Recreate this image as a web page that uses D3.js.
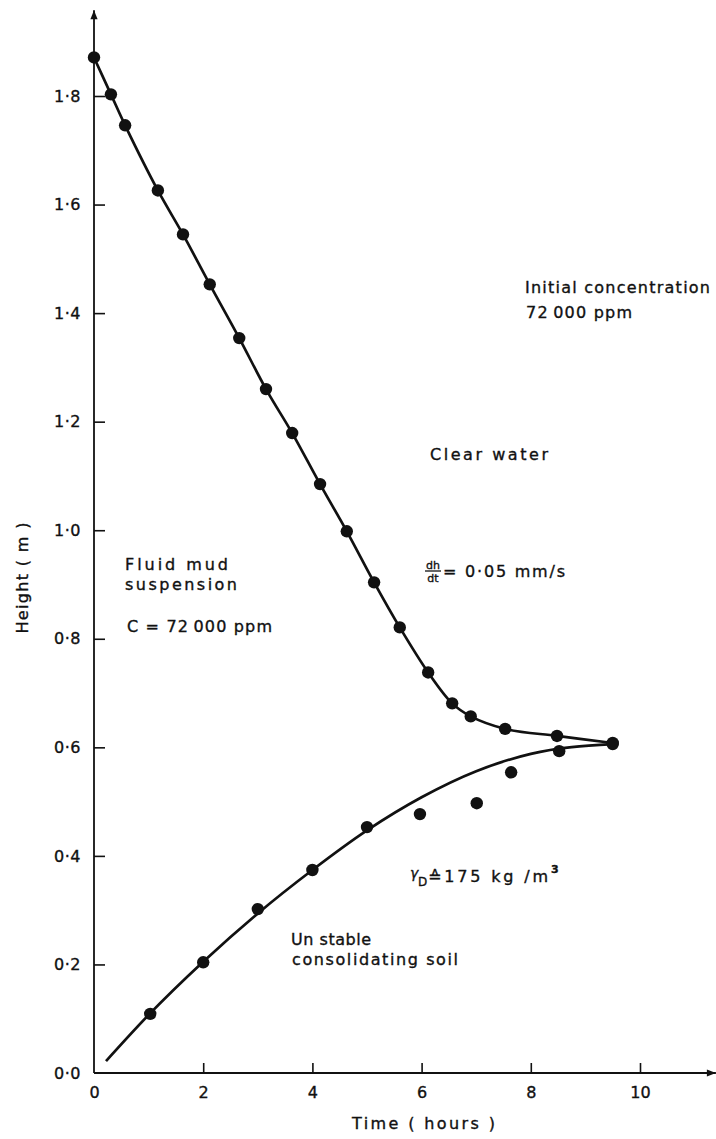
<!DOCTYPE html>
<html>
<head>
<meta charset="utf-8">
<script src="https://cdn.jsdelivr.net/npm/d3@7"></script>
<style>
  html, body { margin: 0; padding: 0; background: #fff; }
  svg { display: block; }
  text { font-family: "DejaVu Sans", sans-serif; fill: #111; stroke: #111; stroke-width: 0.35px; }
</style>
</head>
<body>
<svg id="chart" width="716" height="1139"></svg>
<script>
// Settling column: interface heights over time
// Upper interface (clear water / fluid mud) – measured points
const upperTime   = [0, 0.31, 0.57, 1.17, 1.63, 2.12, 2.66, 3.15, 3.63, 4.14, 4.63, 5.13, 5.60, 6.12, 6.56, 6.90, 7.53, 8.48, 9.50];
const upperHeight = [1.871, 1.803, 1.746, 1.626, 1.545, 1.453, 1.354, 1.260, 1.179, 1.085, 0.998, 0.904, 0.821, 0.738, 0.681, 0.657, 0.634, 0.621, 0.608];

// Lower interface (fluid mud / consolidating soil) – measured points
const lowerTime   = [1.03, 2.0, 3.0, 4.0, 5.0, 5.97, 7.01, 7.64, 8.52, 9.50];
const lowerHeight = [0.109, 0.204, 0.302, 0.374, 0.453, 0.477, 0.497, 0.554, 0.593, 0.606];

// Smoothed trend drawn through the lower interface
const lowerFitTime   = [0.22, 1.0, 2.0, 3.0, 4.0, 5.0, 6.0, 7.0, 8.0, 9.50];
const lowerFitHeight = [0.022, 0.107, 0.205, 0.294, 0.374, 0.447, 0.508, 0.556, 0.588, 0.606];

const xTicks = [0, 2, 4, 6, 8, 10];
const yTicks = [0, 0.2, 0.4, 0.6, 0.8, 1.0, 1.2, 1.4, 1.6, 1.8];

const svg = d3.select("#chart");
const x = d3.scaleLinear().domain([0, 10]).range([94, 640]);
const y = d3.scaleLinear().domain([0, 1.8]).range([1073, 96]);
const xEnd = 11.39, yEnd = 1.958;

const fmt = d => d3.format(".1f")(d).replace(".", "\u00B7");

// Axis lines with arrowheads
svg.append("defs").append("marker")
  .attr("id", "arrow").attr("viewBox", "0 0 10 10")
  .attr("refX", 10).attr("refY", 5)
  .attr("markerWidth", 14).attr("markerHeight", 9)
  .attr("markerUnits", "userSpaceOnUse")
  .attr("orient", "auto")
  .append("path").attr("d", "M0,1 L10,5 L0,9 Z").attr("fill", "#111");

svg.append("line")
  .attr("x1", x(0)).attr("y1", y(0)).attr("x2", x(0)).attr("y2", y(yEnd))
  .attr("stroke", "#111").attr("stroke-width", 1.8).attr("marker-end", "url(#arrow)");
svg.append("line")
  .attr("x1", x(0)).attr("y1", y(0)).attr("x2", x(xEnd)).attr("y2", y(0))
  .attr("stroke", "#111").attr("stroke-width", 1.8).attr("marker-end", "url(#arrow)");

const yAxis = svg.append("g")
  .attr("transform", `translate(${x(0)},0)`)
  .call(d3.axisLeft(y).tickValues(yTicks).tickFormat(fmt).tickSize(-11).tickPadding(13));
const xAxis = svg.append("g")
  .attr("transform", `translate(0,${y(0)})`)
  .call(d3.axisBottom(x).tickValues(xTicks).tickFormat(d3.format("d")).tickSize(-10).tickPadding(14));

[yAxis, xAxis].forEach(g => {
  g.select(".domain").remove();
  g.selectAll(".tick line").attr("stroke", "#111").attr("stroke-width", 1.6);
  g.selectAll(".tick text").style("font-family", "DejaVu Sans, sans-serif")
    .style("font-size", "16px").attr("fill", "#111");
});
yAxis.selectAll(".tick text").attr("letter-spacing", "0.5");
xAxis.selectAll(".tick").filter(d => d === 0).select("line").remove();
yAxis.selectAll(".tick").filter(d => d === 0).select("line").remove();

// Axis titles
svg.append("text")
  .attr("transform", `translate(28,578) rotate(-90)`)
  .attr("text-anchor", "middle").style("font-size", "16px")
  .attr("textLength", 111).attr("lengthAdjust", "spacing")
  .text("Height ( m )");
svg.append("text")
  .attr("x", 352).attr("y", 1129)
  .style("font-size", "16px")
  .attr("textLength", 143).attr("lengthAdjust", "spacing")
  .text("Time ( hours )");

// Curves
const upper = upperTime.map((t, i) => [t, upperHeight[i]]);
const lower = lowerTime.map((t, i) => [t, lowerHeight[i]]);
const lowerFit = lowerFitTime.map((t, i) => [t, lowerFitHeight[i]]);

const upperLine = d3.line().x(d => x(d[0])).y(d => y(d[1])).curve(d3.curveCatmullRom.alpha(0.5));
const lowerLine = d3.line().x(d => x(d[0])).y(d => y(d[1])).curve(d3.curveMonotoneX);

svg.append("path").datum(upper).attr("d", upperLine)
  .attr("fill", "none").attr("stroke", "#111").attr("stroke-width", 2.7);
svg.append("path").datum(lowerFit).attr("d", lowerLine)
  .attr("fill", "none").attr("stroke", "#111").attr("stroke-width", 2.7);

svg.append("g").selectAll("circle").data(upper.concat(lower)).join("circle")
  .attr("cx", d => x(d[0])).attr("cy", d => y(d[1])).attr("r", 6.2)
  .attr("fill", "#111");

// Annotations
const note = (tx, ty, str, len, size = 16) => {
  const t = svg.append("text").attr("x", tx).attr("y", ty).style("font-size", size + "px").text(str);
  if (len) t.attr("textLength", len).attr("lengthAdjust", "spacing");
  return t;
};

note(525, 293, "Initial concentration", 185);
note(526, 318, "72\u2009000 ppm", 106);
note(430, 460, "Clear  water", 118);
note(125, 570, "Fluid mud", 103);
note(125, 590, "suspension", 112);
note(127, 632, "C  = 72\u2009000 ppm", 145);
note(291, 945, "Un stable", 80);
note(292, 965, "consolidating soil", 166);

// dh/dt = 0·05 mm/s
const frac = svg.append("g").attr("transform", "translate(425,571)");
frac.append("text").attr("x", 8).attr("y", -2).attr("text-anchor", "middle")
  .style("font-size", "11px").text("dh");
frac.append("line").attr("x1", 0).attr("x2", 16).attr("y1", 0).attr("y2", 0)
  .attr("stroke", "#111").attr("stroke-width", 1.3);
frac.append("text").attr("x", 8).attr("y", 11).attr("text-anchor", "middle")
  .style("font-size", "11px").text("dt");
svg.append("text").attr("x", 443).attr("y", 577).style("font-size", "16px")
  .attr("textLength", 122).attr("lengthAdjust", "spacing").text("= 0\u00B705 mm/s");

// γD ≙ 175 kg/m³
svg.append("text").attr("x", 410).attr("y", 878).style("font-size", "14px")
  .style("font-style", "italic").text("\u03B3");
svg.append("text").attr("x", 418).attr("y", 886).style("font-size", "12px").text("D");
svg.append("text").attr("x", 428).attr("y", 882).style("font-size", "16px")
  .attr("textLength", 120).attr("lengthAdjust", "spacing").text("\u2259175  kg /m");
svg.append("text").attr("x", 551).attr("y", 873).style("font-size", "11px")
  .style("font-weight", "bold").text("3");
</script>
</body>
</html>
